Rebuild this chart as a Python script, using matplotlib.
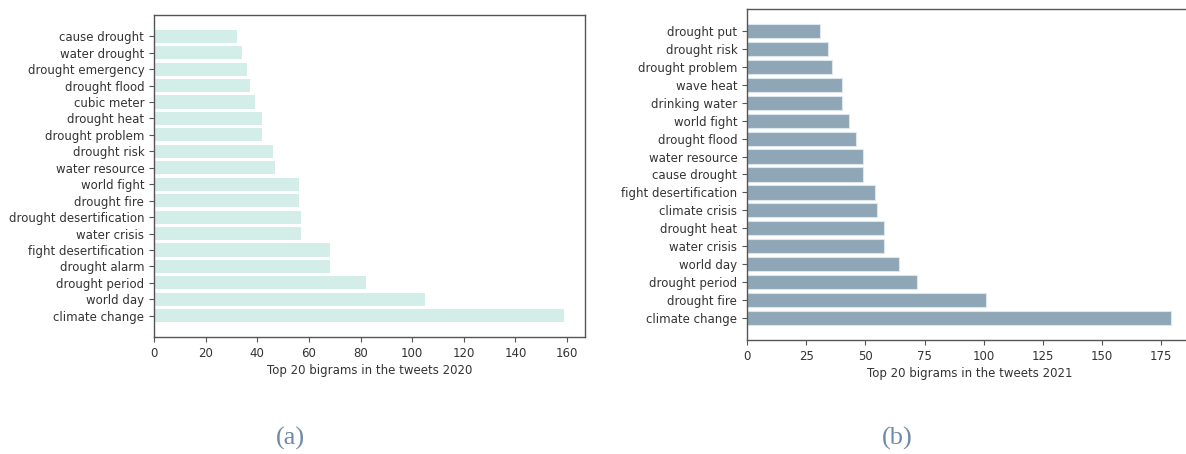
import matplotlib
matplotlib.use("Agg")
import matplotlib.pyplot as plt

W, H = 1186, 454

labels_2020 = ["climate change", "world day", "drought period", "drought alarm",
               "fight desertification", "water crisis", "drought desertification",
               "drought fire", "world fight", "water resource", "drought risk",
               "drought problem", "drought heat", "cubic meter", "drought flood",
               "drought emergency", "water drought", "cause drought"]
values_2020 = [159, 105, 82, 68, 68, 57, 57, 56, 56, 47, 46, 42, 42, 39, 37, 36, 34, 32]

labels_2021 = ["climate change", "drought fire", "drought period", "world day",
               "water crisis", "drought heat", "climate crisis", "fight desertification",
               "cause drought", "water resource", "drought flood", "world fight",
               "drinking water", "wave heat", "drought problem", "drought risk",
               "drought put"]
values_2021 = [179, 101, 72, 64, 58, 58, 55, 54, 49, 49, 46, 43, 40, 40, 36, 34, 31]

xlabel_2020 = "Top 20 bigrams in the tweets 2020"
xlabel_2021 = "Top 20 bigrams in the tweets 2021"
captions = ["(a)", "(b)"]

fig = plt.figure(figsize=(W / 100, H / 100), dpi=100)

def box(l, t, r, b):
    return [l / W, (H - b) / H, (r - l) / W, (b - t) / H]

fs = 8.5
spine_c = "#555555"

ax1 = fig.add_axes(box(154, 15, 585, 337))
ax1.barh(labels_2020, values_2020, color="#d3eee8", height=0.8)
ax1.set_xlabel(xlabel_2020, fontsize=fs, color="#333333", labelpad=3)
ax1.set_xticks([0, 20, 40, 60, 80, 100, 120, 140, 160])

ax2 = fig.add_axes(box(747, 9, 1192, 340))
ax2.barh(labels_2021, values_2021, color="#8ea6b6", edgecolor="#dde6ec", linewidth=0.8, height=0.8)
ax2.set_xlabel(xlabel_2021, fontsize=fs, color="#333333", labelpad=3)
ax2.set_xticks([0, 25, 50, 75, 100, 125, 150, 175])

for ax in (ax1, ax2):
    ax.tick_params(labelsize=fs, labelcolor="#333333", color=spine_c, length=3.5)
    for s in ax.spines.values():
        s.set_color(spine_c)
        s.set_linewidth(1.0)

fig.text(290 / W, 1 - 438 / H, captions[0], fontsize=19, color="#6f8aa6",
         family="Liberation Serif", ha="center", va="center")
fig.text(897 / W, 1 - 438 / H, captions[1], fontsize=19, color="#6f8aa6",
         family="Liberation Serif", ha="center", va="center")

fig.savefig("out.png", dpi=100)
